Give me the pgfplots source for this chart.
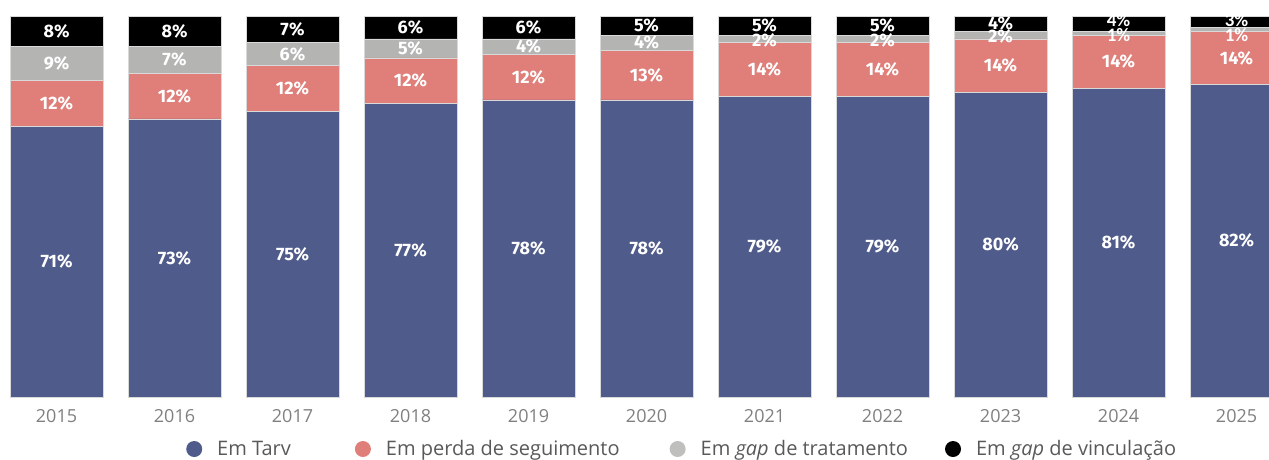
\documentclass[border=0pt]{standalone}
\usepackage{pgfplots}
\pgfplotsset{compat=1.18}
\usepackage{pgfplotstable}
\usepackage{fontspec}
\setmainfont{Open Sans}
\newfontfamily\labfont{Fira Sans}
\newfontfamily\smallfont{Carlito}
\definecolor{cblue}{HTML}{4F5B8A}
\definecolor{cred}{HTML}{E07E79}
\definecolor{cgray}{HTML}{B4B4B2}
\definecolor{cblack}{HTML}{000000}
\definecolor{ticktxt}{HTML}{808080}
\definecolor{legtxt}{HTML}{595959}

% x = 0..10 stands for 2015..2025
\pgfplotstableread{
x  tarv perda gap vinc
0  71   12    9   8
1  73   12    7   8
2  75   12    6   7
3  77   12    5   6
4  78   12    4   6
5  78   13    4   5
6  79   14    2   5
7  79   14    2   5
8  80   14    2   4
9  81   14    1   4
10 82   14    1   3
}\dados

% label positions (middle of each segment)
\pgfplotstableread{
x  y     lab
0  35.5  71
1  36.5  73
2  37.5  75
3  38.5  77
4  39    78
5  39    78
6  39.5  79
7  39.5  79
8  40    80
9  40.5  81
10 41    82
0  77    12
1  79    12
2  81    12
3  83    12
4  84    12
5  84.5  13
6  86    14
7  86    14
8  87    14
9  88    14
10 89    14
0  87.5  9
1  88.5  7
2  90    6
3  91.5  5
4  92    4
5  93    4
6  93.6  2
7  93.6  2
8  94.6  2
0  96    8
1  96    8
2  96.5  7
3  97    6
4  97    6
5  97.5  5
6  97.5  5
7  97.5  5
8  98    4
}\rotulos

\pgfplotstableread{
x  y   lab
9  99  4
9  95  1
10 99  3
10 95  1
}\rotulosb

\pgfplotsset{
    base/.style={
        at={(0pt,0pt)}, anchor=south west,
        scale only axis,
        width=1269pt, height=381pt,
        xmin=-0.479, xmax=10.275,
        ymin=0, ymax=100,
    },
    bolinha/.style={legend image code/.code={
        \fill[#1, draw=none] (8pt,0pt) circle (8pt);
        \path[draw=none, fill=none] (0pt,0pt) -- (31pt,0pt);}},
}

\begin{document}
\begin{tikzpicture}
\useasboundingbox (0pt,-62pt) rectangle (1269pt,397pt);
\begin{axis}[
    base,
    ybar stacked,
    bar width=93pt,
    axis line style={draw=none},
    ytick=\empty,
    xtick=data,
    xticklabels={2015,2016,2017,2018,2019,2020,2021,2022,2023,2024,2025},
    major tick length=0pt,
    xticklabel style={font=\fontsize{18}{20}\selectfont, text=ticktxt,
        inner sep=0pt, anchor=north, yshift=-12.5pt},
    legend columns=4,
    legend style={
        draw=none, fill=none, inner sep=0pt,
        at={(0.1466,-0.1365)}, anchor=west,
        font=\fontsize{20}{24}\selectfont, text=legtxt,
        nodes={inner sep=0pt},
        column sep=0pt,
        /tikz/column 2/.style={column sep=64pt},
        /tikz/column 4/.style={column sep=50pt},
        /tikz/column 6/.style={column sep=37pt},
    },
]
\addplot[fill=cblue, draw=gray!30, line width=0.6pt, bolinha=cblue]
    table[x=x, y=tarv] {\dados};
\addlegendentry{Em Tarv}
\addplot[fill=cred, draw=gray!30, line width=0.6pt, bolinha=cred]
    table[x=x, y=perda] {\dados};
\addlegendentry{Em perda de seguimento}
\addplot[fill=cgray, draw=gray!30, line width=0.6pt, bolinha=cgray!85!white]
    table[x=x, y=gap] {\dados};
\addlegendentry{Em \textit{gap} de tratamento}
\addplot[fill=cblack, draw=gray!30, line width=0.6pt, bolinha=cblack]
    table[x=x, y=vinc] {\dados};
\addlegendentry{Em \textit{gap} de vinculação}
\end{axis}
\begin{axis}[base, hide axis, clip=false]
\addplot[draw=none, mark=none, point meta=explicit symbolic,
    nodes near coords={\pgfplotspointmeta\%},
    every node near coord/.append style={anchor=center, text=white,
        font=\labfont\bfseries\fontsize{18}{20}\selectfont}]
    table[x=x, y=y, meta=lab] {\rotulos};
\addplot[draw=none, mark=none, point meta=explicit symbolic,
    nodes near coords={\pgfplotspointmeta\%},
    every node near coord/.append style={anchor=center, text=white,
        font=\smallfont\bfseries\fontsize{19}{20}\selectfont}]
    table[x=x, y=y, meta=lab] {\rotulosb};
\end{axis}
\end{tikzpicture}
\end{document}
